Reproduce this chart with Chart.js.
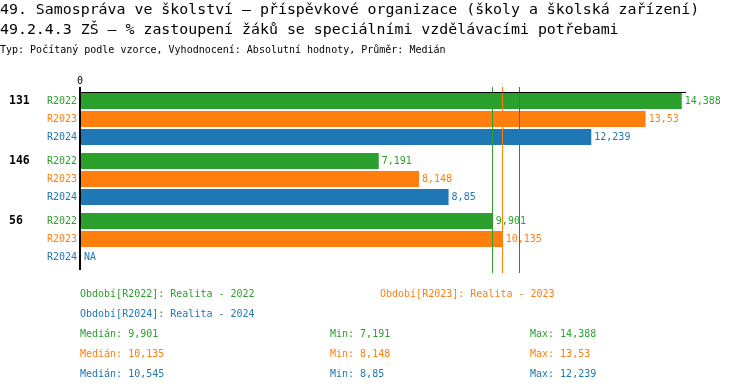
<!DOCTYPE html>
<html>
<head>
<meta charset="utf-8">
<script src="https://cdn.jsdelivr.net/npm/chart.js@4"></script>
<style>
  body { margin: 0; background: #fff; }
  #wrap { width: 750px; height: 392px; }
</style>
</head>
<body>
<div id="wrap"><canvas id="chart" width="750" height="392"></canvas></div>
<script>
// data
const categories = ["131", "146", "56"];
const seriesNames = ["R2022", "R2023", "R2024"];
const seriesLegend = ["Období[R2022]: Realita - 2022", "Období[R2023]: Realita - 2023", "Období[R2024]: Realita - 2024"];
const r2022 = [14.388, 7.191, 9.901];
const r2023 = [13.53, 8.148, 10.135];
const r2024 = [12.239, 8.85, null];
const medians = [9.901, 10.135, 10.545];
const mins = [7.191, 8.148, 8.85];
const maxs = [14.388, 13.53, 12.239];
const xTicks = ["0"];

const colors = ["#2ca02c", "#ff7f0e", "#1f77b4"];
const mono = "'DejaVu Sans Mono', monospace";

const fmt = (v) => String(v).replace(".", ",");

const decor = {
  id: "decor",
  afterDatasetsDraw(chart) {
    const ctx = chart.ctx;
    const area = chart.chartArea;
    const xs = chart.scales.x;
    ctx.save();

    // titles
    ctx.fillStyle = "#000";
    ctx.textBaseline = "middle";
    ctx.textAlign = "left";
    ctx.font = "14.9px " + mono;
    ctx.fillText("49. Samospráva ve školství – příspěvkové organizace (školy a školská zařízení)", 0, 10);
    ctx.fillText("49.2.4.3 ZŠ – % zastoupení žáků se speciálními vzdělávacími potřebami", 0, 30);
    ctx.font = "10px " + mono;
    ctx.fillText("Typ: Počítaný podle vzorce, Vyhodnocení: Absolutní hodnoty, Průměr: Medián", 0, 50);

    // median lines
    medians.forEach((m, i) => {
      const x = Math.round(xs.getPixelForValue(m)) - 0.5;
      ctx.strokeStyle = colors[i];
      ctx.lineWidth = 1;
      ctx.beginPath();
      ctx.moveTo(x, area.top - 2);
      ctx.lineTo(x, area.bottom + 4);
      ctx.stroke();
    });

    // axes
    const firstBar = chart.getDatasetMeta(0).data[0];
    const axisY = Math.round(firstBar.y - firstBar.height / 2) - 0.5;
    const x0 = area.left;
    ctx.strokeStyle = "#000";
    ctx.lineWidth = 1;
    ctx.beginPath();
    ctx.moveTo(x0, axisY);
    ctx.lineTo(area.right, axisY);
    ctx.stroke();
    ctx.lineWidth = 2;
    ctx.beginPath();
    ctx.moveTo(x0, area.top - 2);
    ctx.lineTo(x0, area.bottom + 1);
    ctx.stroke();

    ctx.fillStyle = "#000";
    ctx.font = "10px " + mono;
    ctx.textAlign = "center";
    xTicks.forEach((t) => ctx.fillText(t, x0, area.top - 8));

    // row labels, values
    chart.data.datasets.forEach((ds, di) => {
      const meta = chart.getDatasetMeta(di);
      meta.data.forEach((bar, ci) => {
        const v = ds.data[ci];
        ctx.font = "10px " + mono;
        ctx.fillStyle = colors[di];
        ctx.textAlign = "right";
        ctx.fillText(seriesNames[di], x0 - 3, bar.y + 0.5);
        ctx.textAlign = "left";
        if (v === null) {
          ctx.fillText("NA", x0 + 4, bar.y + 0.5);
        } else {
          ctx.fillText(fmt(v), bar.x + 3, bar.y + 0.5);
        }
        if (di === 0) {
          ctx.fillStyle = "#000";
          ctx.font = "bold 11.5px " + mono;
          ctx.fillText(categories[ci], 9, bar.y + 0.5);
        }
      });
    });

    // legend and summary
    ctx.font = "10px " + mono;
    ctx.textAlign = "left";
    ctx.fillStyle = colors[0];
    ctx.fillText(seriesLegend[0], 80, 294);
    ctx.fillStyle = colors[1];
    ctx.fillText(seriesLegend[1], 380, 294);
    ctx.fillStyle = colors[2];
    ctx.fillText(seriesLegend[2], 80, 314);
    for (let i = 0; i < 3; i++) {
      const y = 334 + i * 20;
      ctx.fillStyle = colors[i];
      ctx.fillText("Medián: " + fmt(medians[i]), 80, y);
      ctx.fillText("Min: " + fmt(mins[i]), 330, y);
      ctx.fillText("Max: " + fmt(maxs[i]), 530, y);
    }
    ctx.restore();
  }
};

new Chart(document.getElementById("chart"), {
  type: "bar",
  data: {
    labels: categories,
    datasets: [
      { label: seriesNames[0], data: r2022, backgroundColor: colors[0] },
      { label: seriesNames[1], data: r2023, backgroundColor: colors[1] },
      { label: seriesNames[2], data: r2024, backgroundColor: colors[2] },
    ],
  },
  options: {
    indexAxis: "y",
    responsive: false,
    animation: false,
    devicePixelRatio: 1,
    categoryPercentage: 0.9,
    barPercentage: 16 / 18,
    layout: { padding: { left: 80, right: 64, top: 89, bottom: 123 } },
    plugins: { legend: { display: false }, tooltip: { enabled: false } },
    scales: {
      x: { display: false, min: 0.095, max: 14.489 },
      y: { display: false, offset: true },
    },
  },
  plugins: [decor],
});
</script>
</body>
</html>
